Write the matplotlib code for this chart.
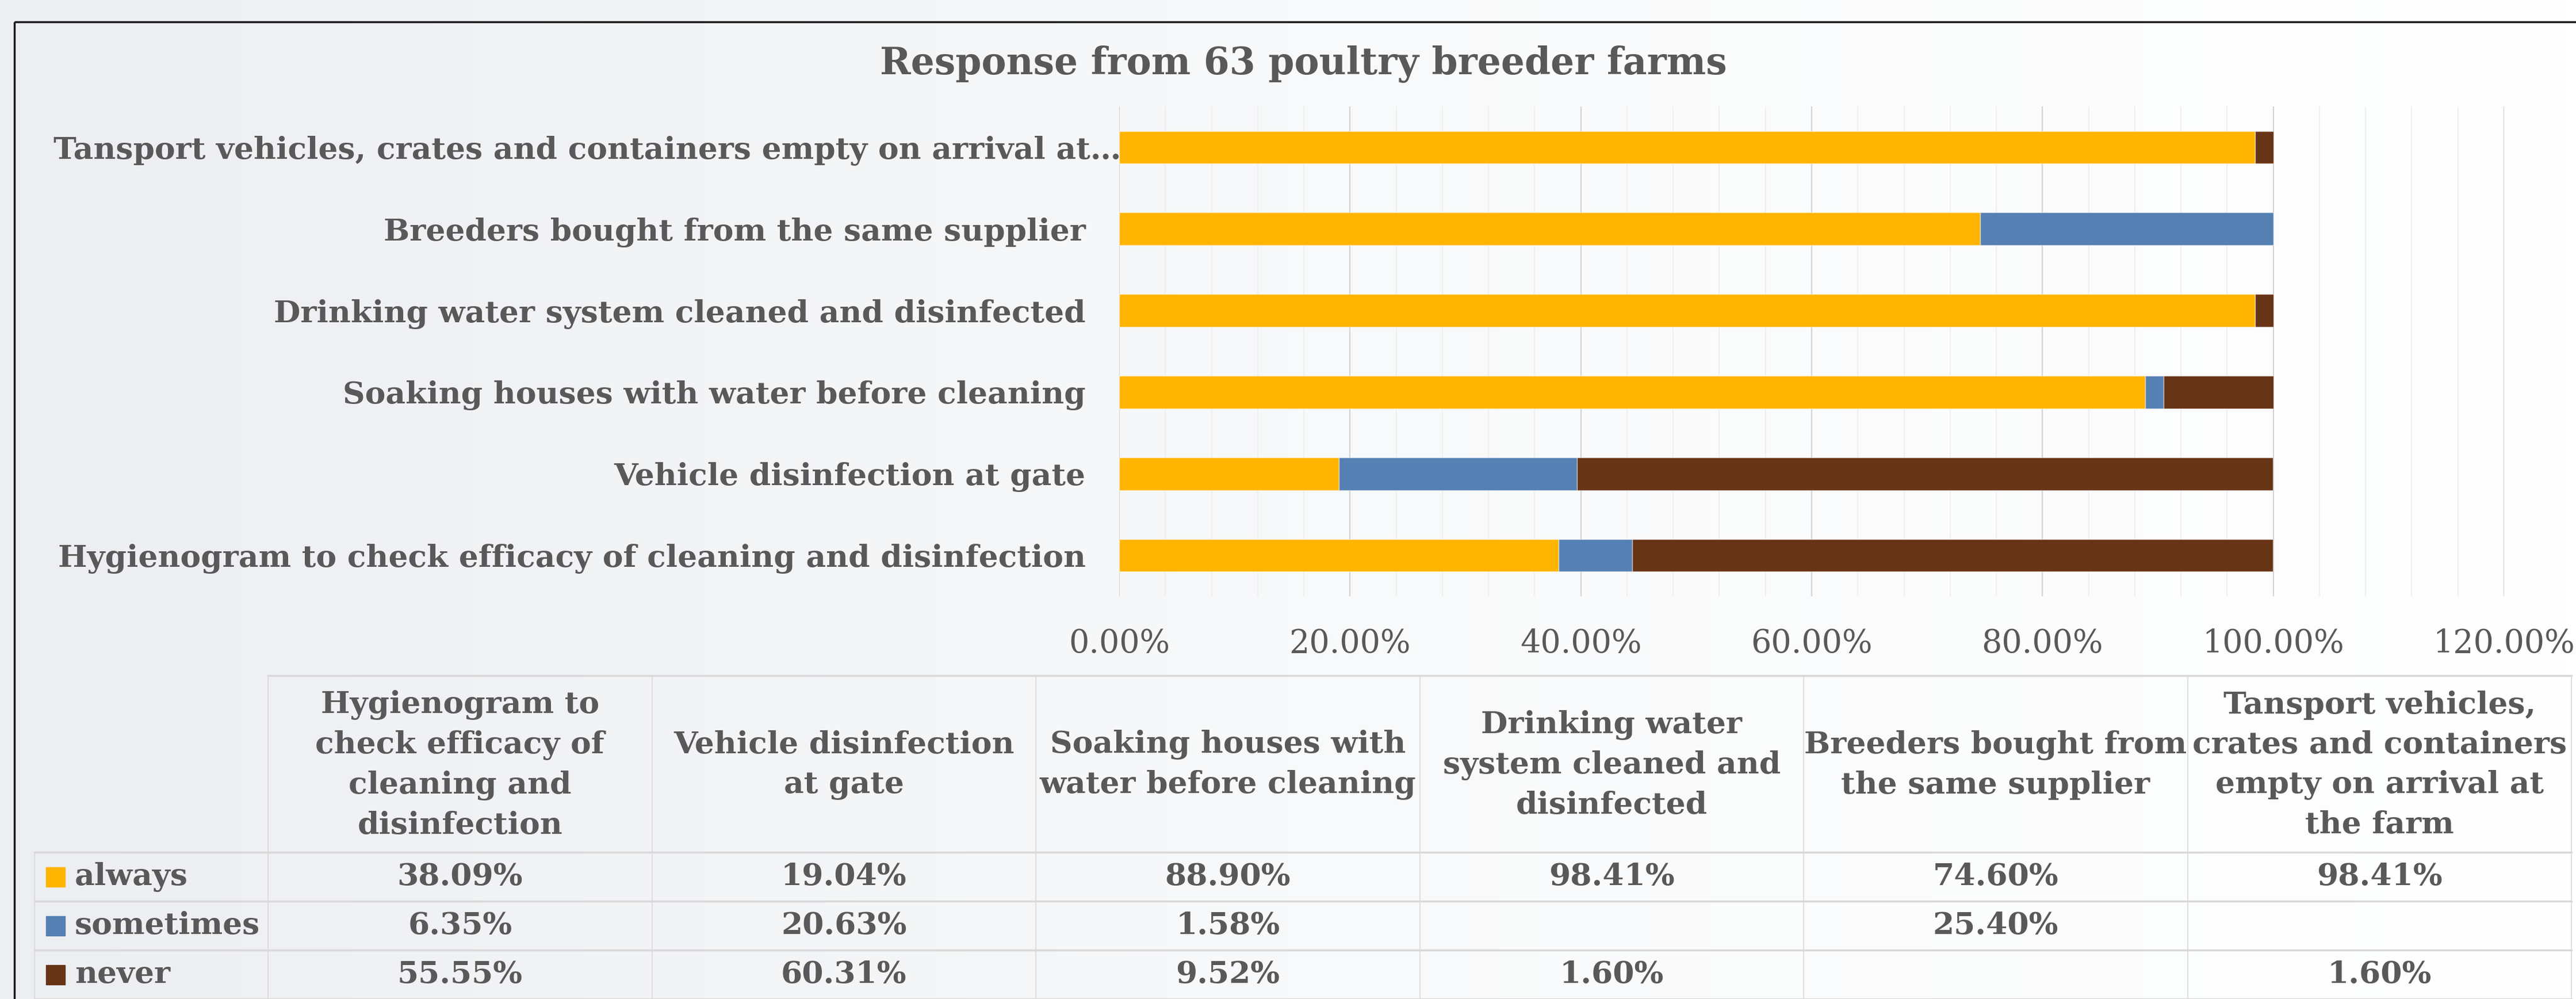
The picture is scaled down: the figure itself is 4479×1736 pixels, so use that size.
import numpy as np
import matplotlib
matplotlib.use('Agg')
import matplotlib.pyplot as plt
from matplotlib.patches import Rectangle
from matplotlib.ticker import MultipleLocator
from matplotlib.colors import LinearSegmentedColormap
from matplotlib.transforms import Affine2D

# data (percent of 63 farms)
categories = ['Hygienogram to check efficacy of cleaning and disinfection',
              'Vehicle disinfection at gate',
              'Soaking houses with water before cleaning',
              'Drinking water system cleaned and disinfected',
              'Breeders bought from the same supplier',
              'Tansport vehicles, crates and containers empty on arrival at the farm']
axis_labels = ['Hygienogram to check efficacy of cleaning and disinfection',
               'Vehicle disinfection at gate',
               'Soaking houses with water before cleaning',
               'Drinking water system cleaned and disinfected',
               'Breeders bought from the same supplier',
               'Tansport vehicles, crates and containers empty on arrival at\u2026']
table_headers = ['Hygienogram to\ncheck efficacy of\ncleaning and\ndisinfection',
                 'Vehicle disinfection\nat gate',
                 'Soaking houses with\nwater before cleaning',
                 'Drinking water\nsystem cleaned and\ndisinfected',
                 'Breeders bought from\nthe same supplier',
                 'Tansport vehicles,\ncrates and containers\nempty on arrival at\nthe farm']
series_names = ['always', 'sometimes', 'never']
always = [38.09, 19.04, 88.90, 98.41, 74.60, 98.41]
sometimes = [6.35, 20.63, 1.58, 0, 25.40, 0]
never = [55.55, 60.31, 9.52, 1.60, 0, 1.60]
colors = ['#FFB400', '#5580B4', '#673416']

TXT = '#595959'
plt.rcParams['font.family'] = ['DejaVu Serif']
FS = 38.5

W, H = 4479, 1736
fig = plt.figure(figsize=(W / 100, H / 100), dpi=100)

# background gradient
bg = fig.add_axes([0, 0, 1, 1], zorder=-10)
grad = np.linspace(0, 1, 256).reshape(1, -1)
cm = LinearSegmentedColormap.from_list('bg', ['#eceef2', '#f8f9fa', '#ffffff'])
bg.imshow(grad, aspect='auto', cmap=cm, extent=[0, 1, 0, 1])
bg.axis('off')

# overlay in pixel coords
ov = fig.add_axes([0, 0, 1, 1], zorder=-5)
ov.set_xlim(0, W)
ov.set_ylim(H, 0)
ov.axis('off')
ov.patch.set_alpha(0)
ov.add_patch(Rectangle((25, 38), W, H, fill=False, ec='#1a1a1a', lw=2.5))
ov.text(2266, 112, 'Response from 63 poultry breeder farms', ha='center', va='center',
        fontsize=46.5, fontweight='bold', color=TXT)

# chart
ax = fig.add_axes([1946 / W, 1 - 1036 / H, 2408 / W, 851 / H])
ax.patch.set_alpha(0)
y = np.arange(len(categories))
left = np.zeros(len(categories))
for name, vals, c in zip(series_names, [always, sometimes, never], colors):
    ax.barh(y, vals, left=left, height=0.4, color=c, edgecolor=(1, 1, 1, 0.5), lw=1, label=name, zorder=3)
    left += np.array(vals)
ax.set_xlim(0, 120)
ax.set_ylim(-0.5, len(categories) - 0.5)
ax.xaxis.set_major_locator(MultipleLocator(20))
ax.xaxis.set_minor_locator(MultipleLocator(4))
ax.grid(which='major', axis='x', color='#d4d4d4', lw=1.6, zorder=0)
ax.grid(which='minor', axis='x', color='#ededed', lw=1.2, zorder=0)
ax.xaxis.set_major_formatter(lambda v, p: f'{v:.2f}%')
ax.set_yticks(y)
ax.set_yticklabels(axis_labels, fontweight='bold')
ax.tick_params(axis='y', length=0, pad=42, labelsize=FS, labelcolor=TXT)
ax.tick_params(axis='x', which='both', length=0, pad=40, labelsize=40, labelcolor=TXT)
for s in ax.spines.values():
    s.set_visible(False)
# the truncated long label runs up to the plot edge
lab = ax.get_yticklabels()[-1]
lab.set_transform(lab.get_transform() + Affine2D().translate(62, 0))

# data table
col_x = np.linspace(466, 4471, len(categories) + 1)
leg_x0 = 60
top, head_bot = 1174, 1481
row_h = 85
line_c = '#d9d9d9'
ov.plot([col_x[0], col_x[-1]], [top, top], color=line_c, lw=2.5)
for i in range(4):
    yy = head_bot + i * row_h
    ov.plot([leg_x0, col_x[-1]], [yy, yy], color=line_c, lw=2.5)
for xx in col_x:
    ov.plot([xx, xx], [top, H], color=line_c, lw=1.2)
ov.plot([leg_x0, leg_x0], [head_bot, H], color=line_c, lw=1.2)
for j, hdr in enumerate(table_headers):
    ov.text((col_x[j] + col_x[j + 1]) / 2, (top + head_bot) / 2 + 2, hdr, ha='center', va='center',
            fontsize=FS, fontweight='bold', color=TXT, linespacing=1.45)
for r, (name, vals, c) in enumerate(zip(series_names, [always, sometimes, never], colors)):
    cy = head_bot + (r + 0.5) * row_h
    ov.add_patch(Rectangle((80, cy - 17), 33, 34, color=c))
    ov.text(130, cy, name, ha='left', va='center', fontsize=FS, fontweight='bold', color=TXT)
    for j, v in enumerate(vals):
        if v:
            ov.text((col_x[j] + col_x[j + 1]) / 2, cy, f'{v:.2f}%', ha='center', va='center',
                    fontsize=FS, fontweight='bold', color=TXT)

fig.savefig('out.png', dpi=100)
